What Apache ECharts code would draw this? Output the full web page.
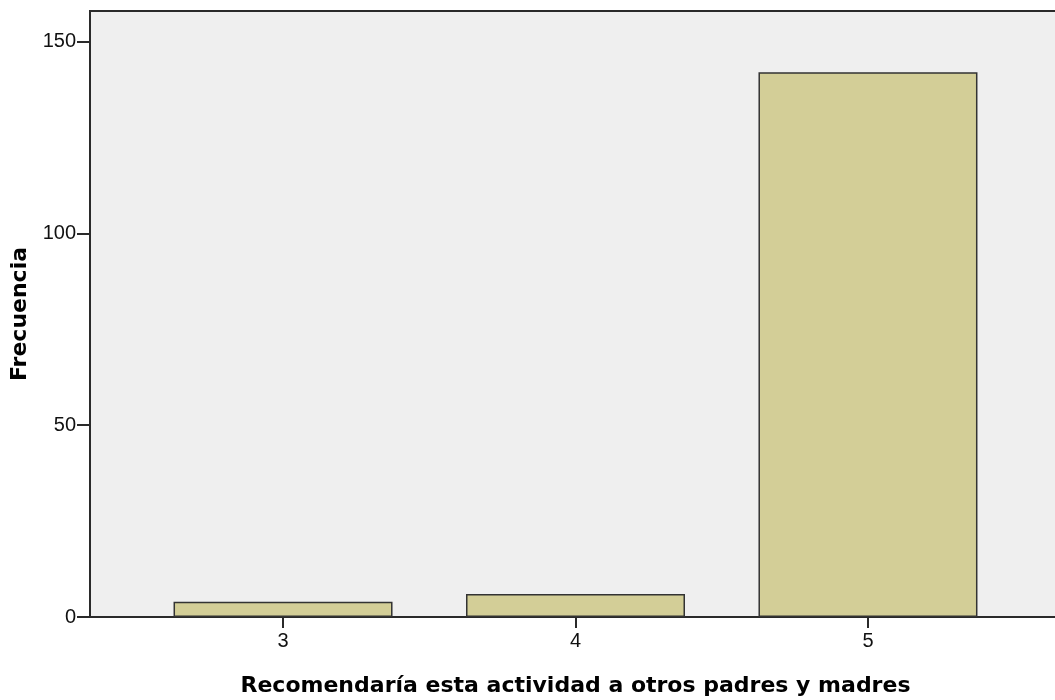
<!DOCTYPE html>
<html>
<head>
<meta charset="utf-8">
<script src="https://cdn.jsdelivr.net/npm/echarts@6/dist/echarts.min.js"></script>
<style>
  html, body { margin: 0; padding: 0; background: #fff; }
  #main { width: 1055px; height: 700px; }
</style>
</head>
<body>
<div id="main"></div>
<script>
// valores de la respuesta (escala 1-5) y sus frecuencias
var categorias = [3, 4, 5];
var frecuencias = [4, 6, 142];
var yTicks = [0, 50, 100, 150];

var tituloX = 'Recomendaría esta actividad a otros padres y madres';
var tituloY = 'Frecuencia';

var puntos = categorias.map(function (c, i) { return [c, frecuencias[i]]; });

var myChart = echarts.init(document.getElementById('main'));
myChart.setOption({
  animation: false,
  grid: {
    left: 90, top: 11, width: 971, bottom: 83,
    outerBoundsMode: 'none',
    containLabel: false,
    show: true,
    backgroundColor: '#efefef',
    borderColor: '#2a2a2a',
    borderWidth: 2
  },
  xAxis: {
    type: 'value',
    min: 2.34,
    max: 5.66,
    name: tituloX,
    nameLocation: 'middle',
    nameGap: 58,
    nameTextStyle: { fontFamily: 'DejaVu Sans', fontWeight: 'bold', fontSize: 22, color: '#000' },
    axisLine: { show: true, lineStyle: { color: '#2a2a2a', width: 2 } },
    axisTick: { show: true, inside: false, customValues: categorias, length: 11, lineStyle: { color: '#2a2a2a', width: 2 } },
    axisLabel: { customValues: categorias, fontFamily: 'Liberation Sans', fontSize: 20, color: '#111', margin: 14 },
    splitLine: { show: false }
  },
  yAxis: {
    type: 'value',
    min: 0,
    max: 158,
    name: tituloY,
    nameLocation: 'middle',
    nameGap: 55,
    nameTextStyle: { fontFamily: 'DejaVu Sans', fontWeight: 'bold', fontSize: 22, color: '#000' },
    axisLine: { show: true, lineStyle: { color: '#2a2a2a', width: 2 } },
    axisTick: { show: true, inside: false, customValues: yTicks, length: 13, lineStyle: { color: '#2a2a2a', width: 2 } },
    axisLabel: { customValues: yTicks, fontFamily: 'Liberation Sans', fontSize: 20, color: '#111', margin: 14 },
    splitLine: { show: false }
  },
  series: [{
    type: 'bar',
    data: puntos,
    barWidth: 219,
    itemStyle: { color: '#d3ce97', borderColor: '#333', borderWidth: 1.5 }
  }]
});
</script>
</body>
</html>
